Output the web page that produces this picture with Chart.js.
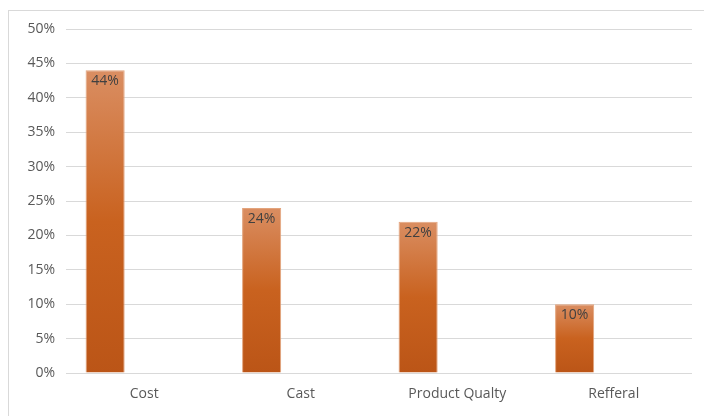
<!DOCTYPE html>
<html>
<head>
<meta charset="utf-8">
<script src="https://cdn.jsdelivr.net/npm/chart.js@4"></script>
<style>
    body { margin: 0; background: #fff; }
    #wrap { position: relative; width: 704px; height: 416px; overflow: hidden; }
    #frame { position: absolute; left: 8px; top: 10px; width: 720px; height: 430px; border: 1px solid #d9d9d9; }
    #chart { position: absolute; left: 0; top: 0; }
</style>
</head>
<body>
<div id="wrap">
    <div id="frame"></div>
    <canvas id="chart" width="704" height="416"></canvas>
</div>
<script>
// Reasons and their share
const categories = ['Cost', 'Cast', 'Product Qualty', 'Refferal'];
const shares = [44, 24, 22, 10];
// Second, empty series keeps the bars on the left half of each slot
const emptySeries = [null, null, null, null];

const FONT = '"Open Sans", "Noto Sans", sans-serif';

// Gradient per bar, lighter at the top
function barGradient(context) {
    const chart = context.chart;
    const yScale = chart.scales.y;
    if (!chart.chartArea || !yScale) return '#c9621f';
    const value = context.raw || 0;
    const top = yScale.getPixelForValue(value);
    const bottom = yScale.getPixelForValue(0);
    const g = chart.ctx.createLinearGradient(0, top, 0, bottom);
    g.addColorStop(0, '#da8e62');
    g.addColorStop(0.5, '#c9621f');
    g.addColorStop(1, '#bb5517');
    return g;
}

// Value labels just inside the top of each bar
const valueLabels = {
    id: 'valueLabels',
    afterDatasetsDraw(chart) {
        const ctx = chart.ctx;
        const meta = chart.getDatasetMeta(0);
        ctx.save();
        ctx.font = '14px ' + FONT;
        ctx.fillStyle = '#404040';
        ctx.textAlign = 'center';
        ctx.textBaseline = 'top';
        meta.data.forEach((bar, i) => {
            ctx.fillText(shares[i] + '%', bar.x, bar.y + 4);
        });
        ctx.restore();
    }
};

new Chart(document.getElementById('chart'), {
    type: 'bar',
    data: {
        labels: categories,
        datasets: [{
            data: shares,
            backgroundColor: barGradient,
            borderColor: '#e3a47d',
            borderWidth: 1,
            categoryPercentage: 1,
            barPercentage: 0.5
        }, {
            data: emptySeries,
            categoryPercentage: 1,
            barPercentage: 0.5
        }]
    },
    options: {
        responsive: false,
        animation: false,
        layout: { padding: { top: 29, right: 12, bottom: 0, left: 0 } },
        plugins: {
            legend: { display: false },
            tooltip: { enabled: false }
        },
        scales: {
            x: {
                grid: { display: false },
                border: { display: false },
                ticks: { color: '#595959', font: { family: FONT, size: 14 }, padding: 5 },
                afterFit: scale => { scale.height = 43; }
            },
            y: {
                min: 0,
                max: 50,
                grid: { color: '#d9d9d9', lineWidth: 1, drawTicks: false },
                border: { display: false },
                ticks: {
                    stepSize: 5,
                    color: '#595959',
                    font: { family: FONT, size: 14 },
                    padding: 11,
                    callback: v => v + '%'
                },
                afterFit: scale => { scale.width = 66; }
            }
        }
    },
    plugins: [valueLabels]
});
</script>
</body>
</html>
